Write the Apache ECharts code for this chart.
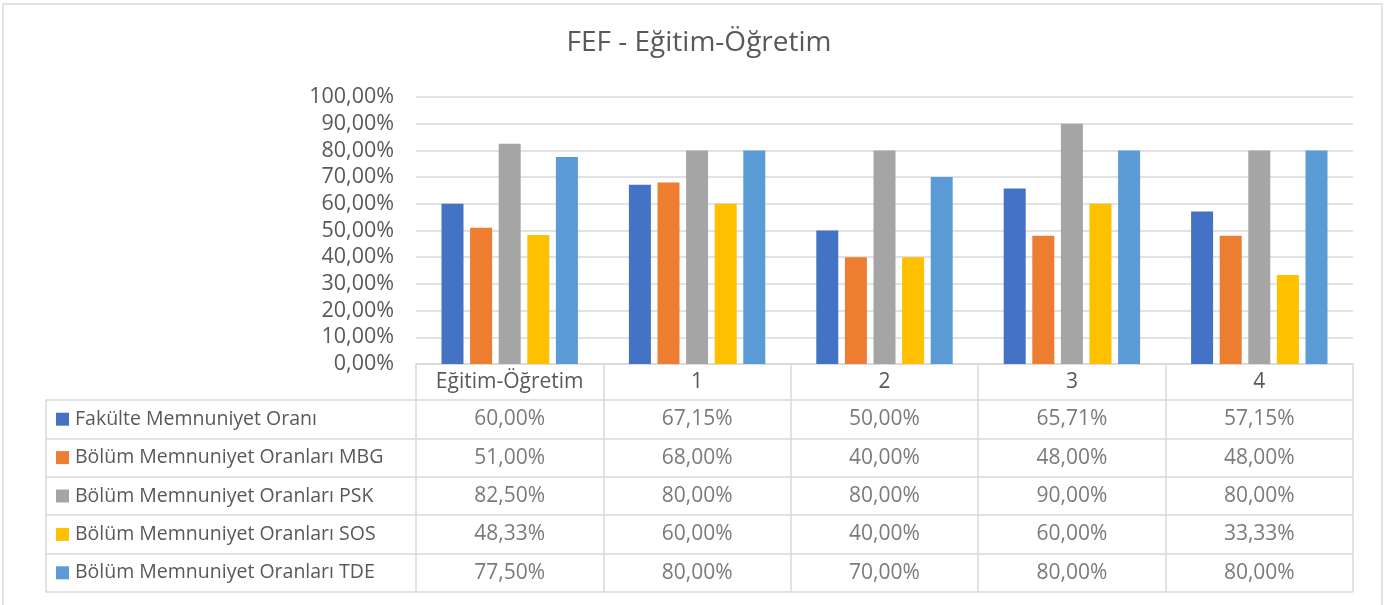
<!DOCTYPE html>
<html>
<head>
<meta charset="utf-8">
<script src="https://cdn.jsdelivr.net/npm/echarts@6/dist/echarts.min.js"></script>
<style>
  html, body { margin: 0; padding: 0; background: #fff; }
  #chart { width: 1398px; height: 605px; }
</style>
</head>
<body>
<div id="chart"></div>
<script>
// data
var categories = ['Eğitim-Öğretim', '1', '2', '3', '4'];
var seriesNames = [
  'Fakülte Memnuniyet Oranı',
  'Bölüm Memnuniyet Oranları MBG',
  'Bölüm Memnuniyet Oranları PSK',
  'Bölüm Memnuniyet Oranları SOS',
  'Bölüm Memnuniyet Oranları TDE'
];
var fakulte = [60.00, 67.15, 50.00, 65.71, 57.15];
var mbg = [51.00, 68.00, 40.00, 48.00, 48.00];
var psk = [82.50, 80.00, 80.00, 90.00, 80.00];
var sos = [48.33, 60.00, 40.00, 60.00, 33.33];
var tde = [77.50, 80.00, 70.00, 80.00, 80.00];
var yTicks = [0, 10, 20, 30, 40, 50, 60, 70, 80, 90, 100];

var allValues = [fakulte, mbg, psk, sos, tde];
var colors = ['#4472C4', '#ED7D31', '#A5A5A5', '#FFC000', '#5B9BD5'];
var font = 'Open Sans';
var textColor = '#595959';
var lineColor = '#d9d9d9';

function pct(v) {
  return v.toFixed(2).replace('.', ',') + '%';
}

var myChart = echarts.init(document.getElementById('chart'));

// bars
var barSeries = seriesNames.map(function (name, i) {
  return {
    name: name,
    type: 'bar',
    xAxisIndex: 0,
    yAxisIndex: 0,
    data: allValues[i],
    barWidth: 22,
    barGap: '30%',
    itemStyle: { color: colors[i] },
    silent: true
  };
});

// table cells, one point per cell
var cellData = [];
allValues.forEach(function (vals, i) {
  vals.forEach(function (v, j) {
    cellData.push([j, i, v]);
  });
});

var rich = {};
colors.forEach(function (c, i) {
  rich['s' + i] = { width: 13, height: 13, backgroundColor: c };
});
rich.t = { fontFamily: font, fontSize: 19.5, color: textColor, padding: [0, 0, 0, 6] };

var option = {
  animation: false,
  backgroundColor: '#fff',
  title: {
    text: 'FEF - Eğitim-Öğretim',
    left: 'center',
    top: 24,
    textStyle: { fontFamily: font, fontSize: 28, fontWeight: 'normal', color: textColor }
  },
  graphic: [{
    type: 'rect',
    shape: { x: 3, y: 4, width: 1379, height: 640 },
    style: { fill: null, stroke: lineColor, lineWidth: 1.5 },
    silent: true
  }],
  grid: [
    { left: 416, right: 45, top: 97, height: 267 },
    { left: 416, right: 45, top: 400, height: 192 }
  ],
  xAxis: [{
    type: 'category',
    gridIndex: 0,
    data: categories,
    axisLine: { lineStyle: { color: lineColor, width: 1.5 } },
    axisTick: { show: true, interval: 0, length: 36, lineStyle: { color: lineColor, width: 1.5 } },
    axisLabel: { interval: 0, margin: 8, fontFamily: font, fontSize: 21, color: textColor },
    splitLine: { show: false }
  }, {
    type: 'category',
    gridIndex: 1,
    data: categories,
    axisLine: { show: false },
    axisTick: { show: false },
    axisLabel: { show: false },
    splitLine: { show: true, interval: 0, lineStyle: { color: lineColor, width: 1.5 } }
  }],
  yAxis: [{
    type: 'value',
    gridIndex: 0,
    min: yTicks[0],
    max: yTicks[yTicks.length - 1],
    interval: yTicks[1] - yTicks[0],
    axisLine: { show: false },
    axisTick: { show: false },
    axisLabel: {
      margin: 22,
      fontFamily: font,
      fontSize: 21.5,
      color: textColor,
      formatter: function (v) { return pct(v); }
    },
    splitLine: { lineStyle: { color: lineColor, width: 1.5 } }
  }, {
    type: 'category',
    gridIndex: 1,
    data: seriesNames,
    inverse: true,
    position: 'left',
    offset: 370,
    axisLine: { show: true, lineStyle: { color: lineColor, width: 1.5 } },
    axisTick: { show: true, interval: 0, inside: true, length: 370, lineStyle: { color: lineColor, width: 1.5 } },
    axisLabel: {
      interval: 0,
      inside: true,
      margin: 10,
      align: 'left',
      formatter: function (v, idx) { return '{s' + idx + '|}{t|' + v + '}'; },
      rich: rich
    },
    splitLine: { show: true, interval: 0, lineStyle: { color: lineColor, width: 1.5 } }
  }],
  series: barSeries.concat([{
    type: 'scatter',
    xAxisIndex: 1,
    yAxisIndex: 1,
    data: cellData,
    symbolSize: 1,
    itemStyle: { color: 'rgba(0,0,0,0)' },
    silent: true,
    label: {
      show: true,
      position: 'inside',
      fontFamily: font,
      fontSize: 21,
      color: textColor,
      formatter: function (p) { return pct(p.value[2]); }
    }
  }])
};

myChart.setOption(option);
</script>
</body>
</html>
